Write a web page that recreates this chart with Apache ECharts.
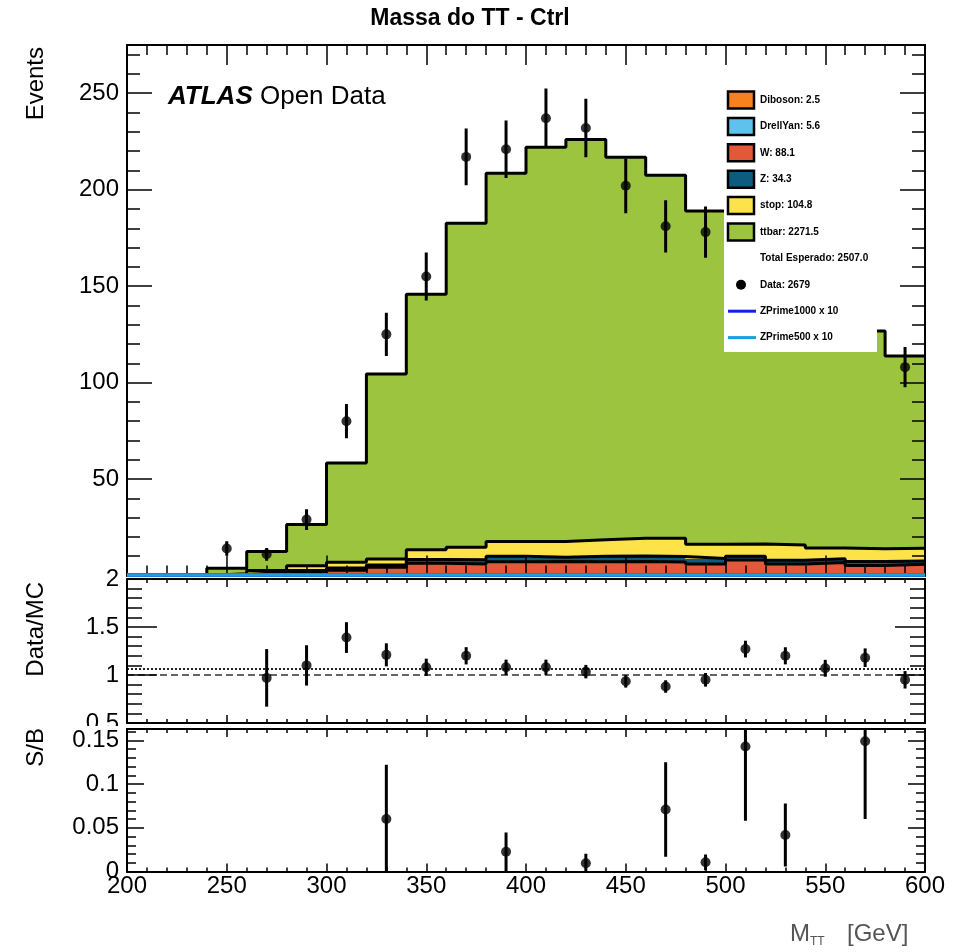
<!DOCTYPE html>
<html>
<head>
<meta charset="utf-8">
<title>Massa do TT - Ctrl</title>
<script src="https://cdn.jsdelivr.net/npm/echarts@6/dist/echarts.min.js"></script>
<style>
  html, body { margin: 0; padding: 0; background: #fff; }
  #chart { width: 958px; height: 952px; }
</style>
</head>
<body>
<div id="chart"></div>
<script>
// ---- binning (GeV) ----
const binEdges = [200, 220, 240, 260, 280, 300, 320, 340, 360, 380, 400,
                  420, 440, 460, 480, 500, 520, 540, 560, 580, 600];

// ---- expected backgrounds per bin (stacked bottom to top) ----
const diboson   = [0, 0, 0.05, 0.05, 0.05, 0.1, 0.1, 0.15, 0.15, 0.2, 0.15, 0.2, 0.2, 0.15, 0.15, 0.2, 0.15, 0.15, 0.15, 0.15];
const drellYan  = [0, 0, 0.1, 0.15, 0.2, 0.25, 0.3, 0.35, 0.35, 0.35, 0.35, 0.35, 0.35, 0.3, 0.3, 0.35, 0.3, 0.3, 0.3, 0.3];
const wJets     = [0, 0, 0.3, 0.7, 1.4, 2.4, 3.9, 5.8, 5.5, 6.6, 6.7, 6.6, 6.7, 6.6, 5.5, 7.5, 5.5, 6.3, 4.7, 5.4];
const zJets     = [0, 0, 0.2, 0.5, 1.0, 1.2, 1.2, 2.0, 2.2, 2.8, 2.2, 2.8, 2.9, 2.8, 2.9, 1.9, 2.0, 1.9, 2.1, 1.7];
const singleTop = [0, 0, 0.3, 1.2, 2.4, 2.9, 3.0, 5.0, 6.5, 7.65, 8.2, 8.55, 9.15, 9.45, 7.4, 6.4, 7.9, 5.6, 6.6, 6.6];
const ttbar     = [0, 0, 2.85, 9.8, 21.45, 51.45, 95.9, 132.5, 167.9, 190.9, 204.4, 207.5, 197.5, 188.2, 172.65, 153.65, 137.05, 125.75, 112.95, 99.65];

// ---- signal lines (x 10) ----
const zprime1000 = [0.2, 0.2, 0.2, 0.2, 0.2, 0.2, 0.2, 0.2, 0.2, 0.2, 0.2, 0.2, 0.2, 0.2, 0.2, 0.2, 0.2, 0.2, 0.2, 0.2];
const zprime500  = [0.3, 0.3, 0.3, 0.3, 0.3, 0.3, 0.3, 0.3, 0.3, 0.3, 0.3, 0.3, 0.3, 0.3, 0.3, 0.3, 0.3, 0.3, 0.3, 0.3];

// ---- observed data ----
const dataMass   = [250, 270, 290, 310, 330, 350, 370, 390, 410, 430, 450, 470, 490, 510, 530, 550, 570, 590];
const dataEvents = [14, 11, 29, 80, 125, 155, 217, 221, 237, 232, 202, 181, 178, 214, 181, 146, 148, 108];
const dataErr    = [3.7, 3.3, 5.4, 8.9, 11.2, 12.4, 14.7, 14.9, 15.4, 15.2, 14.2, 13.5, 13.3, 14.6, 13.5, 12.1, 12.2, 10.4];

// ---- Data / MC ----
const ratioMass = [270, 290, 310, 330, 350, 370, 390, 410, 430, 450, 470, 490, 510, 530, 550, 570, 590];
const ratioVal  = [0.97, 1.1, 1.39, 1.21, 1.08, 1.2, 1.08, 1.08, 1.035, 0.935, 0.88, 0.95, 1.27, 1.2, 1.07, 1.18, 0.95];
const ratioErr  = [0.3, 0.21, 0.16, 0.12, 0.09, 0.09, 0.08, 0.08, 0.07, 0.066, 0.065, 0.071, 0.087, 0.089, 0.088, 0.097, 0.091];

// ---- S / B ----
const sbMass = [330, 390, 430, 470, 490, 510, 530, 570];
const sbVal  = [0.06, 0.0226, 0.0094, 0.071, 0.0105, 0.143, 0.0417, 0.149];
const sbErr  = [0.062, 0.022, 0.011, 0.054, 0.009, 0.085, 0.036, 0.089];

// ---- legend texts ----
const compNames  = ['Diboson', 'DrellYan', 'W', 'Z', 'stop', 'ttbar'];
const compTotals = ['2.5', '5.6', '88.1', '34.3', '104.8', '2271.5'];
const totalExpected = '2507.0';
const dataTotal = '2679';
const signalNames = ['ZPrime1000 x 10', 'ZPrime500 x 10'];

// tick labels
const xTicks = { min: 200, max: 600, step: 50 };

const COLORS = {
  diboson: '#f7801f', drellYan: '#5fc2ee', w: '#e2593a', z: '#0e5b80',
  stop: '#fde24a', ttbar: '#9cc43e', zp1000: '#1020ee', zp500: '#1e9fda'
};
const FONT = '"Liberation Sans", Arial, Helvetica, sans-serif';

const layers = [
  { key: 'diboson', vals: diboson, color: COLORS.diboson },
  { key: 'drellYan', vals: drellYan, color: COLORS.drellYan },
  { key: 'w', vals: wJets, color: COLORS.w },
  { key: 'z', vals: zJets, color: COLORS.z },
  { key: 'stop', vals: singleTop, color: COLORS.stop },
  { key: 'ttbar', vals: ttbar, color: COLORS.ttbar }
];

// ---------- helpers ----------
function rectItem(params, api) {
  const p0 = api.coord([api.value(0), api.value(2)]);
  const p1 = api.coord([api.value(1), api.value(3)]);
  const c = api.visual('color');
  return {
    type: 'rect',
    shape: { x: p0[0], y: p1[1], width: p1[0] - p0[0], height: p0[1] - p1[1] },
    style: { fill: c, stroke: c, lineWidth: 1 }
  };
}
function errItem(params, api) {
  const x = api.value(0), y = api.value(1), e = api.value(2);
  const a = api.coord([x, y - e]);
  const b = api.coord([x, y + e]);
  return {
    type: 'line',
    shape: { x1: a[0], y1: a[1], x2: b[0], y2: b[1] },
    style: { stroke: '#000', lineWidth: 3 }
  };
}
function stepLine(vals) {
  const pts = vals.map((v, i) => [binEdges[i], v]);
  pts.push([binEdges[binEdges.length - 1], vals[vals.length - 1]]);
  return pts;
}

function xAxisDef(grid, pos, tickLen, minorLen, showLabels) {
  return {
    type: 'value', gridIndex: grid, position: pos,
    min: xTicks.min, max: xTicks.max, interval: xTicks.step,
    z: 60,
    axisLine: { show: true, onZero: false, lineStyle: { color: '#000', width: 2 } },
    axisTick: { show: true, inside: true, length: tickLen, lineStyle: { color: '#000', width: 1.5 } },
    minorTick: { show: true, splitNumber: 5, length: minorLen, lineStyle: { color: '#000', width: 1.5 } },
    splitLine: { show: false },
    axisLabel: {
      show: showLabels, margin: 3, fontFamily: FONT, fontSize: 24, color: '#000'
    }
  };
}
function yAxisDef(grid, pos, min, max, interval, tickLen, labels, extra) {
  const ax = {
    type: 'value', gridIndex: grid, position: pos,
    min: min, max: max, interval: interval,
    z: 60,
    axisLine: { show: true, onZero: false, lineStyle: { color: '#000', width: 2 } },
    axisTick: { show: true, inside: true, length: tickLen, lineStyle: { color: '#000', width: 1.5 } },
    splitLine: { show: false },
    axisLabel: labels
      ? Object.assign({ show: true, margin: 8, fontFamily: FONT, fontSize: 24, color: '#000' }, labels)
      : { show: false }
  };
  return Object.assign(ax, extra || {});
}

// ---------- stacked background ----------
const series = [];
const cum = binEdges.slice(0, -1).map(() => 0);
const tops = [];
layers.forEach(layer => {
  const items = layer.vals.map((v, i) => {
    const item = [binEdges[i], binEdges[i + 1], cum[i], cum[i] + v];
    cum[i] += v;
    return item;
  });
  tops.push(cum.slice());
  series.push({
    type: 'custom', name: layer.key, xAxisIndex: 0, yAxisIndex: 0,
    renderItem: rectItem, itemStyle: { color: layer.color },
    encode: { x: [0, 1], y: [2, 3] }, data: items, z: 2, clip: true
  });
});
tops.forEach(t => {
  series.push({
    type: 'line', xAxisIndex: 0, yAxisIndex: 0, step: 'end', symbol: 'none',
    lineStyle: { color: '#000', width: 3 }, data: stepLine(t), z: 3
  });
});

// signal lines, drawn over the frame edge
series.push({
  type: 'line', xAxisIndex: 0, yAxisIndex: 0, step: 'end', symbol: 'none', clip: false,
  lineStyle: { color: COLORS.zp1000, width: 4 }, data: stepLine(zprime1000), z: 65
});
series.push({
  type: 'line', xAxisIndex: 0, yAxisIndex: 0, step: 'end', symbol: 'none', clip: false,
  lineStyle: { color: COLORS.zp500, width: 3.5 }, data: stepLine(zprime500), z: 66
});

// data points
series.push({
  type: 'custom', xAxisIndex: 0, yAxisIndex: 0, renderItem: errItem, clip: true,
  encode: { x: 0, y: 1 }, data: dataMass.map((m, i) => [m, dataEvents[i], dataErr[i]]), z: 5
});
series.push({
  type: 'scatter', xAxisIndex: 0, yAxisIndex: 0, symbol: 'circle', symbolSize: 10,
  itemStyle: { color: '#000' }, data: dataMass.map((m, i) => [m, dataEvents[i]]), z: 5
});

// ratio panel
const dataOverMc = parseFloat(dataTotal) / parseFloat(totalExpected);
series.push({
  type: 'custom', xAxisIndex: 2, yAxisIndex: 4, renderItem: errItem, clip: true,
  encode: { x: 0, y: 1 }, data: ratioMass.map((m, i) => [m, ratioVal[i], ratioErr[i]]), z: 5,
  markLine: {
    silent: true, symbol: 'none', label: { show: false }, animation: false,
    data: [
      { yAxis: 1, lineStyle: { type: [7, 4], color: '#333', width: 1.5 } },
      { yAxis: dataOverMc, lineStyle: { type: [2, 2], color: '#222', width: 2 } }
    ]
  }
});
series.push({
  type: 'scatter', xAxisIndex: 2, yAxisIndex: 4, symbol: 'circle', symbolSize: 10,
  itemStyle: { color: '#000' }, data: ratioMass.map((m, i) => [m, ratioVal[i]]), z: 6
});

// S/B panel
series.push({
  type: 'custom', xAxisIndex: 4, yAxisIndex: 6, renderItem: errItem, clip: true,
  encode: { x: 0, y: 1 }, data: sbMass.map((m, i) => [m, sbVal[i], sbErr[i]]), z: 5
});
series.push({
  type: 'scatter', xAxisIndex: 4, yAxisIndex: 6, symbol: 'circle', symbolSize: 10,
  itemStyle: { color: '#000' }, data: sbMass.map((m, i) => [m, sbVal[i]]), z: 6
});

// ---------- axes ----------
const mainFmt = v => (v > 0 && Math.abs(v % 50) < 1e-6) ? String(v) : '';
const ratioFmt = v => String(+v.toFixed(1));
const sbFmt = v => {
  const k = v / 0.05;
  if (Math.abs(k - Math.round(k)) > 1e-6) return '';
  return v === 0 ? '0' : String(+v.toFixed(2));
};

const xAxes = [
  xAxisDef(0, 'bottom', 20, 10, false),
  xAxisDef(0, 'top', 20, 10, false),
  xAxisDef(1, 'bottom', 8, 4, false),
  xAxisDef(1, 'top', 8, 4, false),
  xAxisDef(2, 'bottom', 8, 4, true),
  xAxisDef(2, 'top', 8, 4, false)
];
const ratioMinor = { minorTick: { show: true, splitNumber: 5, length: 15, lineStyle: { color: '#000', width: 1.5 } } };
const yAxes = [
  yAxisDef(0, 'left', 0, 275, 50, 25, { formatter: mainFmt }),
  yAxisDef(0, 'left', 0, 275, 10, 13, null),
  yAxisDef(0, 'right', 0, 275, 50, 25, null),
  yAxisDef(0, 'right', 0, 275, 10, 13, null),
  yAxisDef(1, 'left', 0.5, 2, 0.5, 30, { formatter: ratioFmt }, ratioMinor),
  yAxisDef(1, 'right', 0.5, 2, 0.5, 30, null, ratioMinor),
  yAxisDef(2, 'left', 0, 0.163, 0.05, 17, { formatter: sbFmt }, { z: 62 }),
  yAxisDef(2, 'left', 0, 0.163, 0.01, 9, null, { z: 62 }),
  yAxisDef(2, 'right', 0, 0.163, 0.05, 17, null, { z: 62 }),
  yAxisDef(2, 'right', 0, 0.163, 0.01, 9, null, { z: 62 })
];
xAxes[4].z = 62; xAxes[5].z = 62;

// ---------- text & legend ----------
const graphics = [];
graphics.push({
  type: 'text', x: 470, y: 19, z: 70,
  style: { text: 'Massa do TT - Ctrl', fontFamily: FONT, fontWeight: 'bold', fontSize: 23,
           fill: '#000', align: 'center', verticalAlign: 'middle' }
});
graphics.push({
  type: 'text', x: 168, y: 97, z: 70,
  style: {
    text: '{b|ATLAS} Open Data', fontFamily: FONT, fontSize: 26, fill: '#000',
    verticalAlign: 'middle',
    rich: { b: { fontFamily: FONT, fontSize: 26, fontWeight: 'bold', fontStyle: 'italic', fill: '#000' } }
  }
});
// axis titles
const yTitles = [
  { text: 'Events', y: 47 },
  { text: 'Data/MC', y: 582 },
  { text: 'S/B', y: 728 }
];
// white strip: the S/B pad hides the lower half of the ratio "0.5" label
graphics.push({ type: 'rect', z: 61, shape: { x: 0, y: 726, width: 125, height: 20 }, style: { fill: '#fff' } });
yTitles.forEach(t => graphics.push({
  type: 'text', x: 36, y: t.y, rotation: Math.PI / 2, z: 70,
  style: { text: t.text, fontFamily: FONT, fontSize: 24, fill: '#000', align: 'right', verticalAlign: 'middle' }
}));
graphics.push({ type: 'text', x: 790, y: 934, z: 70,
  style: { text: 'M', fontFamily: FONT, fontSize: 24, fill: '#555', verticalAlign: 'middle' } });
graphics.push({ type: 'text', x: 810, y: 942, z: 70,
  style: { text: 'TT', fontFamily: FONT, fontSize: 12, fill: '#555', verticalAlign: 'middle' } });
graphics.push({ type: 'text', x: 847, y: 934, z: 70,
  style: { text: '[GeV]', fontFamily: FONT, fontSize: 24, fill: '#555', verticalAlign: 'middle' } });

// legend box
graphics.push({ type: 'rect', z: 50, shape: { x: 724, y: 82, width: 153, height: 270 }, style: { fill: '#fff' } });
const rowY = i => 100 + i * 26.4;
const legFont = { fontFamily: FONT, fontSize: 10, fontWeight: 'bold', fill: '#000', verticalAlign: 'middle' };
layers.forEach((layer, i) => {
  graphics.push({ type: 'rect', z: 51, shape: { x: 728, y: rowY(i) - 8.5, width: 26, height: 17 },
    style: { fill: layer.color, stroke: '#000', lineWidth: 2.5 } });
  graphics.push({ type: 'text', x: 760, y: rowY(i), z: 51,
    style: Object.assign({ text: compNames[i] + ': ' + compTotals[i] }, legFont) });
});
graphics.push({ type: 'text', x: 760, y: rowY(6), z: 51,
  style: Object.assign({ text: 'Total Esperado: ' + totalExpected }, legFont) });
graphics.push({ type: 'circle', z: 51, shape: { cx: 741, cy: rowY(7), r: 5 }, style: { fill: '#000' } });
graphics.push({ type: 'text', x: 760, y: rowY(7), z: 51,
  style: Object.assign({ text: 'Data: ' + dataTotal }, legFont) });
[COLORS.zp1000, COLORS.zp500].forEach((c, k) => {
  graphics.push({ type: 'line', z: 51, shape: { x1: 728, y1: rowY(8 + k), x2: 756, y2: rowY(8 + k) },
    style: { stroke: c, lineWidth: 3 } });
  graphics.push({ type: 'text', x: 760, y: rowY(8 + k), z: 51,
    style: Object.assign({ text: signalNames[k] }, legFont) });
});

const chart = echarts.init(document.getElementById('chart'), null, { renderer: 'canvas' });
chart.setOption({
  backgroundColor: '#fff',
  animation: false,
  grid: [
    { left: 127, top: 45, width: 798, height: 530.5, containLabel: false },
    { left: 127, top: 579, width: 798, height: 144, containLabel: false },
    { left: 127, top: 729, width: 798, height: 142.5, containLabel: false }
  ],
  xAxis: xAxes,
  yAxis: yAxes,
  series: series.map(s => Object.assign({ animation: false, silent: true }, s)),
  graphic: { elements: graphics }
});
</script>
</body>
</html>
